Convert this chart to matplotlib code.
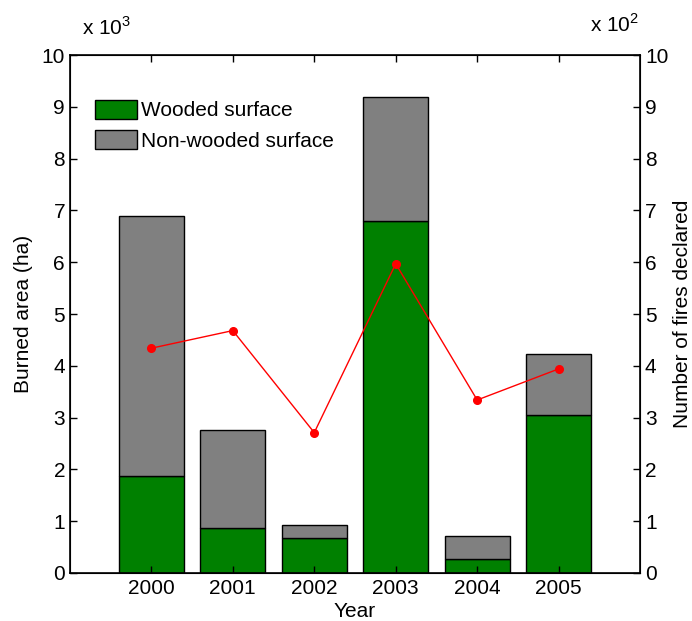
import matplotlib.pyplot as plt
import numpy as np

plt.rcParams['font.family'] = ['Liberation Sans', 'DejaVu Sans']
plt.rcParams['mathtext.fontset'] = 'custom'
plt.rcParams['mathtext.rm'] = 'Liberation Sans'

years = [2000, 2001, 2002, 2003, 2004, 2005]
# burned area, in thousands of ha
wooded = [1.87, 0.86, 0.67, 6.80, 0.27, 3.05]
total = [6.89, 2.77, 0.92, 9.19, 0.72, 4.22]
# number of fires, in hundreds
fires = [4.34, 4.68, 2.71, 5.97, 3.34, 3.94]

non_wooded = [t - w for t, w in zip(total, wooded)]

fs = 15

fig = plt.figure(figsize=(6.92, 6.21), dpi=100)
ax = fig.add_axes([0.101, 0.0773, 0.824, 0.8341])

ax.bar(years, wooded, 0.8, color='#008000', edgecolor='black', linewidth=1,
       label='Wooded surface')
ax.bar(years, non_wooded, 0.8, bottom=wooded, color='#808080',
       edgecolor='black', linewidth=1, label='Non-wooded surface')

ax.set_xlim(1999, 2006)
ax.set_ylim(0, 10)
ax.set_xticks(years)
ax.set_yticks(np.arange(0, 11, 1))
ax.set_xlabel('Year', fontsize=fs, labelpad=3)
ax.set_ylabel('Burned area (ha)', fontsize=fs, labelpad=6)
ax.tick_params(direction='in', labelsize=fs, top=True, length=5, width=1)
ax.tick_params(axis='x', pad=4)
for s in ax.spines.values():
    s.set_linewidth(1.2)

ax.legend(loc='upper left', bbox_to_anchor=(0.03, 0.93), frameon=False,
          fontsize=fs, handlelength=2.0, handleheight=1.05,
          handletextpad=0.2, labelspacing=0.45, borderaxespad=0)

ax2 = ax.twinx()
ax2.plot(years, fires, color='red', linewidth=1, marker='o', markersize=5.5)
ax2.set_ylim(0, 10)
ax2.set_yticks(np.arange(0, 11, 1))
ax2.set_ylabel('Number of fires declared', fontsize=fs, rotation=90, labelpad=3)
ax2.tick_params(direction='in', labelsize=fs, length=5, width=1)

fig.text(0.118, 0.955, r'x 10$^3$', fontsize=fs, ha='left', va='center')
fig.text(0.852, 0.96, r'x 10$^2$', fontsize=fs, ha='left', va='center')

fig.savefig('out.png', dpi=100)
